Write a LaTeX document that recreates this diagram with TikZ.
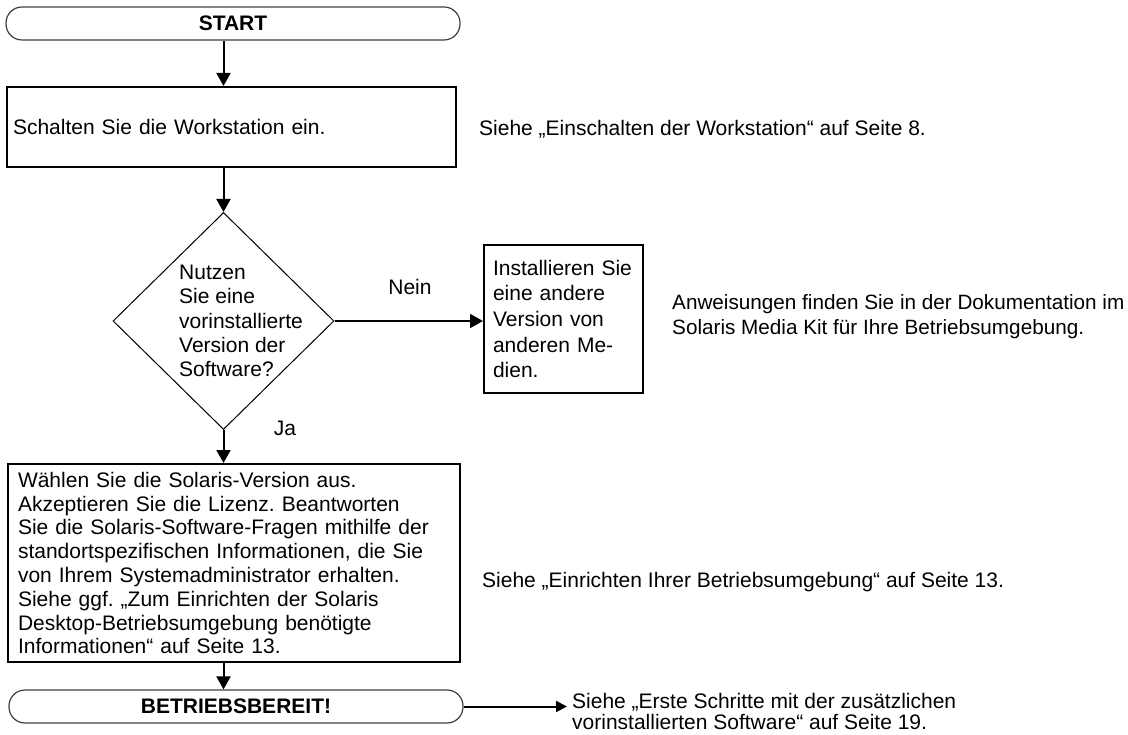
\documentclass[tikz,border=0pt]{standalone}
\usepackage{fontspec}
\setmainfont{Liberation Sans}
\usetikzlibrary{arrows.meta,shapes.geometric}
\frenchspacing
\begin{document}
\begin{tikzpicture}[x=1pt,y=-1pt,
  every node/.style={font=\fontsize{21}{24}\selectfont},
  arr/.style={line width=2pt,-{Triangle[width=14pt,length=13pt]}},
  arrs/.style={line width=2pt,-{Triangle[width=11pt,length=11pt]}},
  term/.style={draw=black!75,line width=1.2pt,rounded corners=16pt,minimum width=454pt,minimum height=33pt,inner sep=0pt,font=\fontsize{21}{24}\selectfont\bfseries},
  boxx/.style={draw,line width=2pt,align=left,inner ysep=0pt},
  txt/.style={anchor=west,align=left,inner sep=0pt}]
\useasboundingbox (0,0) rectangle (1128,735);
\node[term] (start) at (233,23.5) {START};
\node[boxx,text width=437pt,inner xsep=6pt,minimum height=80pt] (b1) at (231.5,127) {Schalten Sie die Workstation ein.};
\node[draw,diamond,line width=1pt,minimum width=221pt,minimum height=217pt,inner sep=0pt] (dia) at (223.5,321) {};
\node[txt,font=\fontsize{21}{24.3}\selectfont] (qt) at (179,321) {Nutzen\\Sie eine\\vorinstallierte\\Version der\\Software?};
\node[boxx,text width=141pt,inner xsep=9pt,minimum height=148pt,font=\fontsize{21}{25.7}\selectfont] (inst) at (563.5,319) {Installieren Sie\\eine andere\\Version von\\anderen Me-\\dien.};
\node[boxx,text width=432pt,inner xsep=10pt,minimum height=198pt,font=\fontsize{21}{23.8}\selectfont] (b3) at (234,563) {Wählen Sie die Solaris-Version aus.\\Akzeptieren Sie die Lizenz. Beantworten\\Sie die Solaris-Software-Fragen mithilfe der\\standortspezifischen Informationen, die Sie\\von Ihrem Systemadministrator erhalten.\\Siehe ggf. „Zum Einrichten der Solaris\\Desktop-Betriebsumgebung benötigte\\Informationen“ auf Seite 13.};
\node[term] (bterm) at (236,706.5) {BETRIEBSBEREIT!};
\node (nein) at (410,287) {Nein};
\node (ja) at (285,428) {Ja};
\node[txt] (r1) at (479,129) {Siehe „Einschalten der Workstation“ auf Seite 8.};
\node[txt,font=\fontsize{20.7}{25}\selectfont] (r2) at (672,317) {Anweisungen finden Sie in der Dokumentation im\\Solaris Media Kit für Ihre Betriebsumgebung.};
\node[txt] (r3) at (482,582) {Siehe „Einrichten Ihrer Betriebsumgebung“ auf Seite 13.};
\node[txt,inner xsep=5pt,font=\fontsize{21}{21}\selectfont] (r4) at (567,711) {Siehe „Erste Schritte mit der zusätzlichen\\vorinstallierten Software“ auf Seite 19.};
\draw[arr] (start.south -| dia.north) -- (b1.north -| dia.north);
\draw[arr] (b1.south -| dia.north) -- (dia.north);
\draw[arr] (dia.east) -- (dia.east -| inst.west);
\draw[arr] (dia.south) -- (b3.north -| dia.south);
\draw[arr] (b3.south -| dia.south) -- (bterm.north -| dia.south);
\draw[arrs] (bterm.east) -- (bterm.east -| r4.west);
\end{tikzpicture}
\end{document}
